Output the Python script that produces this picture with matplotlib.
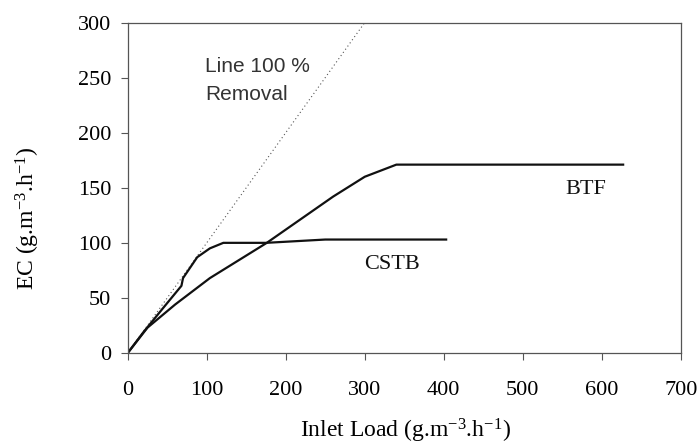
import matplotlib
matplotlib.use("Agg")
import matplotlib.pyplot as plt

plt.rcParams['font.family'] = 'Liberation Serif'
plt.rcParams['mathtext.fontset'] = 'custom'
plt.rcParams['mathtext.rm'] = 'Liberation Serif'
plt.rcParams['mathtext.it'] = 'Liberation Serif:italic'

# data
cstb_x = [0, 20, 45, 68, 70, 88, 104, 121, 175, 250, 403]
cstb_y = [0, 19, 41, 61, 68, 87, 95, 100, 100, 103, 103]

btf_x = [0, 25, 60, 104, 176, 260, 300, 340, 627]
btf_y = [0, 23, 44, 68, 100, 142, 160, 171, 171]

ideal_x = [0, 300]
ideal_y = [0, 300]

fig = plt.figure(figsize=(6.99, 4.46), dpi=100)
ax = fig.add_axes([0.1827, 0.2085, 0.7913, 0.741])

ax.plot(ideal_x, ideal_y, linestyle=(0, (1, 2.5)), color='#555555', lw=0.8)
ax.plot(cstb_x, cstb_y, color='#111111', lw=1.6)
ax.plot(btf_x, btf_y, color='#111111', lw=1.6)

# annotation, two lines placed by baseline
ax.text(98, 255, "Line 100 %", family='Liberation Sans', fontsize=15,
        color='#333333', va='baseline', ha='left')
ax.text(98, 230, "Removal", family='Liberation Sans', fontsize=15,
        color='#333333', va='baseline', ha='left')
ax.text(580, 148, "BTF", fontsize=16, ha='center', va='center', color='#111111')
ax.text(334, 80, "CSTB", fontsize=16, ha='center', va='center', color='#111111')

ax.set_xlim(0, 700)
ax.set_ylim(0, 300)
ax.set_xticks(range(0, 701, 100))
ax.set_yticks(range(0, 301, 50))
for s in ax.spines.values():
    s.set_color('#555555')
    s.set_linewidth(0.9)
ax.tick_params(direction='out', length=5, color='#555555', labelsize=16)
ax.tick_params(axis='x', pad=15)
ax.tick_params(axis='y', pad=7)

fig.text(405 / 699, 1 - 431 / 446, r"Inlet Load (g.m$^{\mathrm{-3}}$.h$^{\mathrm{-1}}$)",
         fontsize=17, ha='center', va='center')
fig.text(28 / 699, 1 - 218 / 446, r"EC (g.m$^{\mathrm{-3}}$.h$^{\mathrm{-1}}$)",
         fontsize=17, ha='center', va='center', rotation=90)

fig.savefig("out.png", dpi=100)
